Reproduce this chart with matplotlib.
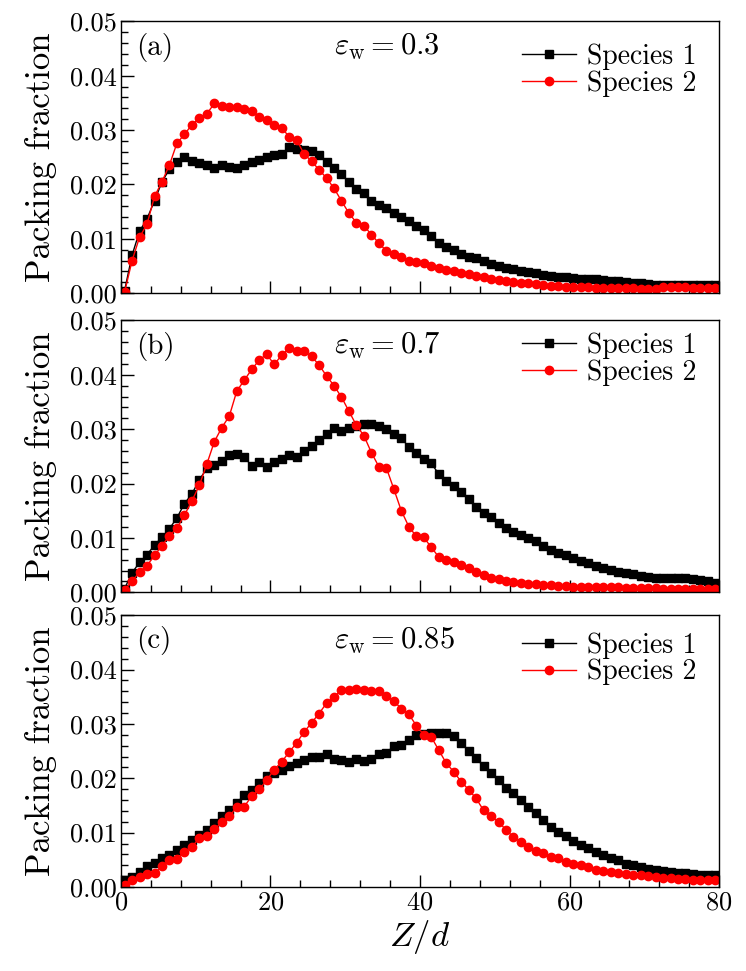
import numpy as np
import matplotlib
matplotlib.use('Agg')
import matplotlib.pyplot as plt
from matplotlib.ticker import MultipleLocator, FormatStrFormatter

plt.rcParams['font.family'] = ['cmr10', 'DejaVu Serif']
plt.rcParams['mathtext.fontset'] = 'cm'
plt.rcParams['axes.formatter.use_mathtext'] = True

# bin centres along Z/d
z = np.arange(0.5, 80, 1.0)

# panel (a), eps_w = 0.3
a_sp1 = [0.0005, 0.0070, 0.0114, 0.0137, 0.0170, 0.0205, 0.0228, 0.0242, 0.0250, 0.0243,
         0.0239, 0.0236, 0.0231, 0.0236, 0.0233, 0.0231, 0.0236, 0.0241, 0.0245, 0.0251,
         0.0255, 0.0256, 0.0269, 0.0266, 0.0264, 0.0261, 0.0255, 0.0241, 0.0231, 0.0219,
         0.0204, 0.0191, 0.0184, 0.0170, 0.0162, 0.0156, 0.0148, 0.0140, 0.0132, 0.0123,
         0.0116, 0.0105, 0.0092, 0.0085, 0.0079, 0.0072, 0.0067, 0.0064, 0.0059, 0.0054,
         0.0050, 0.0047, 0.0044, 0.0041, 0.0039, 0.0037, 0.0034, 0.0032, 0.0030, 0.0029,
         0.0028, 0.0027, 0.0026, 0.0026, 0.0025, 0.0023, 0.0022, 0.0021, 0.0019, 0.0018,
         0.0017, 0.0016, 0.0016, 0.0016, 0.0016, 0.0016, 0.0016, 0.0016, 0.0016, 0.0016]
a_sp2 = [0.0002, 0.0060, 0.0103, 0.0127, 0.0178, 0.0205, 0.0236, 0.0276, 0.0292, 0.0310,
         0.0322, 0.0330, 0.0349, 0.0345, 0.0343, 0.0343, 0.0338, 0.0335, 0.0325, 0.0319,
         0.0310, 0.0304, 0.0288, 0.0282, 0.0256, 0.0243, 0.0227, 0.0212, 0.0193, 0.0170,
         0.0147, 0.0130, 0.0124, 0.0108, 0.0092, 0.0078, 0.0072, 0.0066, 0.0060, 0.0058,
         0.0055, 0.0050, 0.0047, 0.0043, 0.0040, 0.0038, 0.0035, 0.0032, 0.0030, 0.0027,
         0.0024, 0.0022, 0.0020, 0.0019, 0.0018, 0.0017, 0.0016, 0.0014, 0.0013, 0.0012,
         0.0012, 0.0011, 0.0011, 0.0010, 0.0010, 0.0010, 0.0009, 0.0009, 0.0009, 0.0008,
         0.0007, 0.0008, 0.0012, 0.0012, 0.0011, 0.0011, 0.0010, 0.0010, 0.0009, 0.0009]

# panel (b), eps_w = 0.7
b_sp1 = [0.0007, 0.0036, 0.0055, 0.0069, 0.0087, 0.0101, 0.0117, 0.0137, 0.0163, 0.0181,
         0.0207, 0.0228, 0.0235, 0.0242, 0.0252, 0.0254, 0.0248, 0.0233, 0.0239, 0.0231,
         0.0239, 0.0245, 0.0253, 0.0248, 0.0260, 0.0269, 0.0280, 0.0291, 0.0302, 0.0297,
         0.0302, 0.0306, 0.0310, 0.0310, 0.0306, 0.0300, 0.0292, 0.0284, 0.0267, 0.0256,
         0.0246, 0.0237, 0.0218, 0.0204, 0.0195, 0.0184, 0.0171, 0.0156, 0.0146, 0.0138,
         0.0127, 0.0118, 0.0110, 0.0105, 0.0100, 0.0095, 0.0085, 0.0078, 0.0073, 0.0069,
         0.0064, 0.0058, 0.0053, 0.0049, 0.0044, 0.0041, 0.0038, 0.0035, 0.0033, 0.0030,
         0.0028, 0.0027, 0.0027, 0.0027, 0.0026, 0.0026, 0.0025, 0.0023, 0.0020, 0.0018]
b_sp2 = [0.0004, 0.0021, 0.0037, 0.0049, 0.0068, 0.0086, 0.0104, 0.0118, 0.0142, 0.0168,
         0.0197, 0.0236, 0.0277, 0.0303, 0.0324, 0.0370, 0.0390, 0.0410, 0.0427, 0.0438,
         0.0419, 0.0436, 0.0449, 0.0443, 0.0443, 0.0434, 0.0418, 0.0398, 0.0380, 0.0359,
         0.0333, 0.0307, 0.0288, 0.0257, 0.0231, 0.0229, 0.0190, 0.0150, 0.0121, 0.0103,
         0.0101, 0.0083, 0.0065, 0.0060, 0.0056, 0.0050, 0.0044, 0.0038, 0.0032, 0.0027,
         0.0024, 0.0021, 0.0019, 0.0018, 0.0016, 0.0015, 0.0014, 0.0013, 0.0012, 0.0011,
         0.0010, 0.0010, 0.0010, 0.0009, 0.0009, 0.0009, 0.0009, 0.0008, 0.0008, 0.0008,
         0.0008, 0.0008, 0.0007, 0.0007, 0.0007, 0.0007, 0.0007, 0.0007, 0.0007, 0.0007]

# panel (c), eps_w = 0.85
c_sp1 = [0.0013, 0.0019, 0.0028, 0.0038, 0.0044, 0.0053, 0.0059, 0.0068, 0.0077, 0.0087,
         0.0096, 0.0105, 0.0117, 0.0130, 0.0142, 0.0154, 0.0170, 0.0179, 0.0191, 0.0204,
         0.0210, 0.0216, 0.0222, 0.0228, 0.0234, 0.0239, 0.0240, 0.0244, 0.0236, 0.0233,
         0.0229, 0.0236, 0.0231, 0.0236, 0.0244, 0.0247, 0.0259, 0.0262, 0.0271, 0.0280,
         0.0281, 0.0284, 0.0284, 0.0283, 0.0277, 0.0265, 0.0251, 0.0237, 0.0222, 0.0210,
         0.0197, 0.0182, 0.0173, 0.0160, 0.0148, 0.0136, 0.0123, 0.0111, 0.0102, 0.0093,
         0.0085, 0.0077, 0.0071, 0.0065, 0.0059, 0.0053, 0.0049, 0.0043, 0.0040, 0.0037,
         0.0034, 0.0031, 0.0030, 0.0028, 0.0026, 0.0025, 0.0024, 0.0022, 0.0022, 0.0022]
c_sp2 = [0.0004, 0.0013, 0.0019, 0.0024, 0.0025, 0.0038, 0.0049, 0.0051, 0.0065, 0.0074,
         0.0090, 0.0093, 0.0106, 0.0119, 0.0130, 0.0147, 0.0148, 0.0167, 0.0180, 0.0196,
         0.0216, 0.0230, 0.0248, 0.0265, 0.0285, 0.0302, 0.0319, 0.0338, 0.0350, 0.0362,
         0.0363, 0.0365, 0.0363, 0.0360, 0.0360, 0.0352, 0.0342, 0.0328, 0.0318, 0.0297,
         0.0280, 0.0276, 0.0252, 0.0228, 0.0212, 0.0194, 0.0179, 0.0163, 0.0141, 0.0130,
         0.0120, 0.0105, 0.0092, 0.0083, 0.0073, 0.0067, 0.0062, 0.0056, 0.0053, 0.0046,
         0.0043, 0.0040, 0.0037, 0.0032, 0.0029, 0.0028, 0.0026, 0.0024, 0.0023, 0.0022,
         0.0020, 0.0019, 0.0017, 0.0016, 0.0015, 0.0014, 0.0013, 0.0013, 0.0012, 0.0012]

panels = [('(a)', '0.3', a_sp1, a_sp2),
          ('(b)', '0.7', b_sp1, b_sp2),
          ('(c)', '0.85', c_sp1, c_sp2)]

fig = plt.figure(figsize=(7.46, 9.71), dpi=100)
left, width = 0.162, 0.802
bottoms = [0.698, 0.390, 0.0865]
height = 0.280
legend_top = [0.918, 0.955, 0.937]

for i, (tag, eps, s1, s2) in enumerate(panels):
    ax = fig.add_axes([left, bottoms[i], width, height])
    ax.plot(z, s1, '-s', color='black', lw=1.0, ms=5.6, label='Species 1')
    ax.plot(z, s2, '-o', color='red', lw=1.0, ms=6.0, label='Species 2')
    ax.set_xlim(0, 80)
    ax.set_ylim(0, 0.05)
    ax.xaxis.set_major_locator(MultipleLocator(20))
    ax.xaxis.set_minor_locator(MultipleLocator(4))
    ax.yaxis.set_major_locator(MultipleLocator(0.01))
    ax.yaxis.set_minor_locator(MultipleLocator(0.002))
    ax.yaxis.set_major_formatter(FormatStrFormatter('%.2f'))
    ax.tick_params(which='both', direction='in', top=False, right=False,
                   labelsize=19, pad=3)
    ax.tick_params(which='major', length=9, width=1.0)
    ax.tick_params(which='minor', length=5, width=1.0)
    for sp in ax.spines.values():
        sp.set_linewidth(1.0)
    if i < 2:
        ax.tick_params(labelbottom=False)
    else:
        ax.set_xlabel('$Z/d$', fontsize=25, labelpad=2)
    ax.set_ylabel('Packing fraction', fontsize=25, labelpad=9)
    ax.text(0.025, 0.905, tag, transform=ax.transAxes, fontsize=21, va='center')
    ax.text(0.356, 0.905, r'$\varepsilon_{\rm w} = ' + eps + '$', transform=ax.transAxes,
            fontsize=22, va='center')
    ax.legend(loc='upper right', frameon=False, fontsize=20, handlelength=1.95,
              handletextpad=0.4, labelspacing=0.0, borderaxespad=0.0, borderpad=0.0,
              bbox_to_anchor=(0.962, legend_top[i]))

fig.savefig('out.png', dpi=100)
